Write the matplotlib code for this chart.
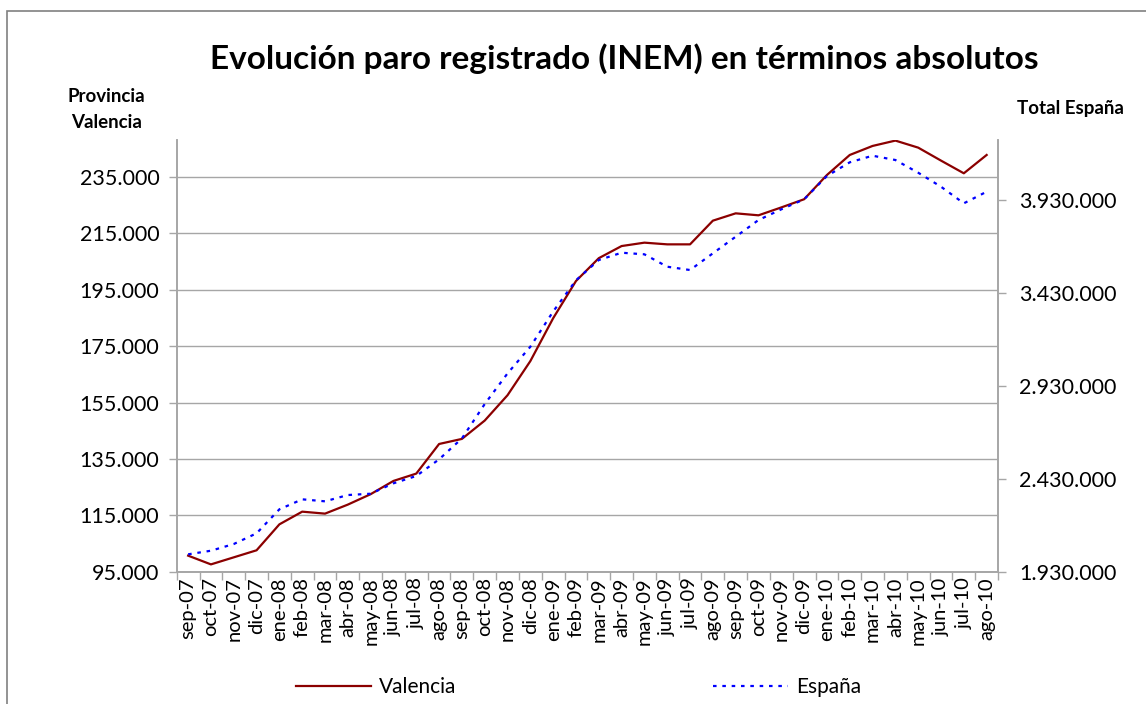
import matplotlib.pyplot as plt
import matplotlib.ticker as mticker
from matplotlib.patches import Rectangle
import numpy as np

## data
meses = ['sep-07', 'oct-07', 'nov-07', 'dic-07',
         'ene-08', 'feb-08', 'mar-08', 'abr-08', 'may-08', 'jun-08',
         'jul-08', 'ago-08', 'sep-08', 'oct-08', 'nov-08', 'dic-08',
         'ene-09', 'feb-09', 'mar-09', 'abr-09', 'may-09', 'jun-09',
         'jul-09', 'ago-09', 'sep-09', 'oct-09', 'nov-09', 'dic-09',
         'ene-10', 'feb-10', 'mar-10', 'abr-10', 'may-10', 'jun-10',
         'jul-10', 'ago-10']

# provincia de Valencia (eje izquierdo)
valencia = [100700, 97600, 100100, 102600, 111800, 116300, 115600, 118800,
            122500, 127200, 129800, 140300, 142100, 148600, 157600, 169700,
            184900, 198100, 206200, 210500, 211700, 211100, 211100, 219500,
            222100, 221400, 224200, 227100, 235700, 242800, 246000, 247900,
            245400, 240800, 236300, 242800]

# total España (eje derecho)
espana = [2023600, 2043000, 2079000, 2136600, 2265700, 2319500, 2308700,
          2342600, 2349600, 2405600, 2444900, 2534700, 2647000, 2832000,
          2997000, 3140500, 3330000, 3498000, 3606900, 3646200, 3637600,
          3570900, 3553100, 3642900, 3732300, 3822100, 3879700, 3933500,
          4058900, 4132600, 4168100, 4145000, 4076600, 4001300, 3912000,
          3974400]

titulo = 'Evolución paro registrado (INEM) en términos absolutos'

## plotting
plt.rcParams['font.family'] = ['Lato', 'DejaVu Sans']

fig = plt.figure(figsize=(11.46, 7.04), dpi=100)
ax = fig.add_axes([0.1542, 0.1879, 0.8709 - 0.1542, 0.8011 - 0.1879])
ax2 = ax.twinx()

x = np.arange(len(meses))
grey = '#a6a6a6'

l1, = ax.plot(x, valencia, color='#8b0000', lw=1.6, label='Valencia', zorder=3)
l2, = ax2.plot(x, espana, color='#0000ff', lw=1.6, ls=(0, (1.6, 2.6)),
               label='España', zorder=3)

ax.set_xlim(-0.5, len(meses) - 0.5)
ax.set_ylim(95000, 248100)
ax2.set_ylim(1930000, 4252500)

# y axes
ax.set_yticks(np.arange(95000, 248000, 20000))
ax2.set_yticks(np.arange(1930000, 4250000, 500000))
fmt = mticker.FuncFormatter(lambda v, p: f'{v:,.0f}'.replace(',', '.'))
ax.yaxis.set_major_formatter(fmt)
ax2.yaxis.set_major_formatter(fmt)
ax.grid(axis='y', color=grey, lw=1)

# x axis: ticks between categories, labels in the middle
ax.set_xticks(np.arange(-0.5, len(meses), 1))
ax.set_xticklabels([])
ax.set_xticks(x, minor=True)
ax.set_xticklabels(meses, minor=True, rotation=90, fontsize=14.5)
ax.tick_params(axis='x', which='minor', length=0, pad=4)
ax.tick_params(axis='x', which='major', length=6, color=grey, width=1)

ax.tick_params(axis='y', length=6, color=grey, width=1, labelsize=15.5, pad=6.5)
ax2.tick_params(axis='y', length=6, color=grey, width=1, labelsize=15.5, pad=9)

for a in (ax, ax2):
    a.spines['top'].set_visible(False)
    for s in ('left', 'right', 'bottom'):
        a.spines[s].set_color(grey)
        a.spines[s].set_linewidth(1.2)

# texts
fig.text(0.545, 0.917, titulo, ha='center', va='center', fontsize=24,
         fontweight='bold')
fig.text(0.093, 0.845, 'Provincia\nValencia', ha='center', va='center',
         fontsize=13.5, fontweight='bold', linespacing=1.65)
fig.text(0.934, 0.846, 'Total España', ha='center', va='center',
         fontsize=13.5, fontweight='bold')

fig.legend([l1, l2], ['Valencia', 'España'], loc='center',
           bbox_to_anchor=(0.505, 0.024), ncol=2, frameon=False,
           fontsize=15, handlelength=3.6, handletextpad=0.4,
           columnspacing=12.3)

# outer chart frame
fig.patches.append(Rectangle((7 / 1146, -0.1), 1.2, 1.1 - 11 / 704,
                             transform=fig.transFigure, fill=False,
                             edgecolor='#808080', lw=1.2))

plt.savefig('out.png', dpi=100)
